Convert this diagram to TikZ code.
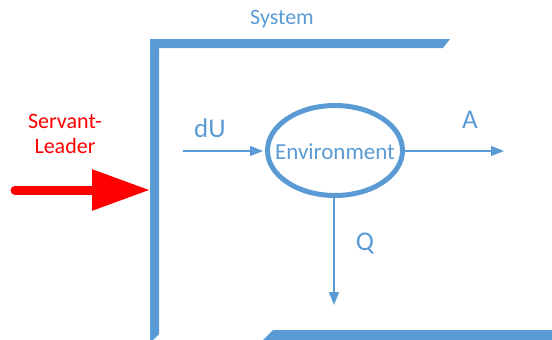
\documentclass[tikz,border=0pt]{standalone}
\usepackage{fontspec}
\setmainfont{Carlito}
\usetikzlibrary{arrows.meta,shapes.geometric}
\definecolor{officeblue}{RGB}{91,155,213}
\definecolor{redarrow}{RGB}{255,0,0}
\tikzset{
  frame/.style={fill=officeblue,draw=none},
  flow/.style={draw=officeblue,line width=1.4pt,-{Triangle[length=13pt,width=10pt]}},
  lbl/.style={text=officeblue,inner sep=0pt,font=\fontsize{27}{30}\selectfont},
  smalllbl/.style={text=officeblue,inner sep=0pt,font=\fontsize{22}{25}\selectfont},
}
\begin{document}
\begin{tikzpicture}[x=1pt,y=-1pt]
\useasboundingbox (0,0) rectangle (552,340);
\clip (0,0) rectangle (552,340);
% frame (L shape top-left)
\fill[frame] (150,39) -- (450,39) -- (443,48) -- (159,48) -- (159,334) -- (150,343) -- cycle;
% frame bottom right
\fill[frame] (273,330) -- (560,330) -- (560,345) -- (258,345) -- cycle;
% environment
\node[ellipse,draw=officeblue,line width=5pt,minimum width=135pt,minimum height=90pt,inner sep=0pt,
      label={[smalllbl,font=\fontsize{23}{26}\selectfont,yshift=-1pt]center:Environment}] (env) at (335,150.5) {};
% coordinates
\coordinate (duS) at (183,151);
\coordinate (aE) at (504,151);
\coordinate (qE) at (334,305);
\coordinate (slS) at (15,190);
\coordinate (slE) at (150,190);
% connectors
\draw[flow,shorten >=2pt] (duS) -- (env.west |- duS);
\draw[flow] (env.east |- aE) -- (aE);
\draw[flow] (env.south -| qE) -- (qE);
\draw[draw=redarrow,line width=9pt,line cap=round,-{Triangle[length=58pt,width=39pt]}] (slS) -- (slE);
% labels
\node[lbl] (du) at (210,128) {dU};
\node[lbl] (a) at (470,120) {A};
\node[lbl] (q) at (365,244) {Q};
\node[smalllbl] (sys) at (282,19) {System};
\node[text=redarrow,align=center,inner sep=0pt,font=\fontsize{22}{25}\selectfont] (sl) at (65,134) {Servant-\\Leader};
\end{tikzpicture}
\end{document}
